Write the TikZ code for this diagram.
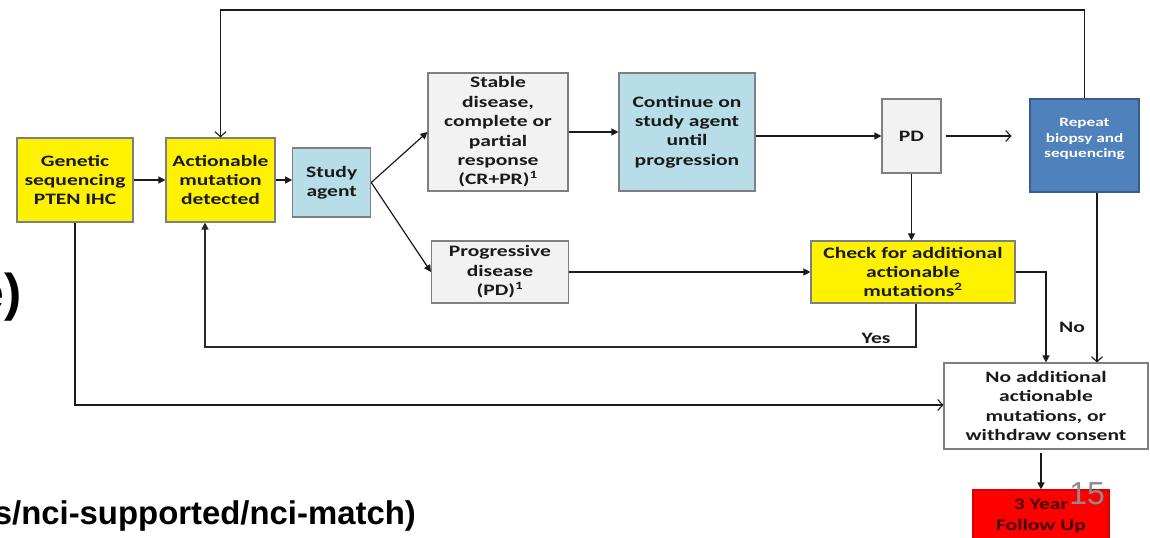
\documentclass[tikz,border=0pt]{standalone}
\usepackage{fontspec}
\setmainfont{Carlito}[FakeStretch=1.35]
\newfontfamily\arialfont{Liberation Sans}
\usetikzlibrary{arrows.meta,calc}
\definecolor{boxgray}{HTML}{7F7F7F}
\definecolor{lgray}{HTML}{F2F2F2}
\definecolor{lblue}{HTML}{B7DEE8}
\definecolor{rblue}{HTML}{4F81BD}
\definecolor{rblueb}{HTML}{385D8A}
\definecolor{txt}{HTML}{1A1A1A}
\definecolor{lin}{HTML}{1A1A1A}
\definecolor{pgnum}{HTML}{8C8C8C}
\definecolor{fuText}{HTML}{400000}
\tikzset{
  box/.style={draw=boxgray, line width=1.1bp, inner sep=0pt, align=center,
    font=\bfseries\fontsize{16}{19.5}\selectfont, text=txt},
  ybox/.style={box, fill=yellow},
  gbox/.style={box, fill=lgray},
  bbox/.style={box, fill=lblue},
  conn/.style={draw=lin, line width=1.2bp},
  farrow/.style={conn, -{Triangle[length=7bp,width=7bp]}},
  oarrow/.style={conn, -{Straight Barb[length=5bp,width=11bp,line width=1.1bp]}},
  lbl/.style={font=\bfseries\fontsize{16}{19.5}\selectfont, text=txt, inner sep=0pt}
}
\begin{document}
\begin{tikzpicture}[x=1bp,y=-1bp]
\useasboundingbox (0,0) rectangle (1150,538);
\clip (0,0) rectangle (1150,538);
\fill[white] (0,0) rectangle (1150,538);

% boxes
\node[ybox, minimum width=116bp, minimum height=84bp] (gen) at (75,180) {Genetic\\sequencing\\PTEN IHC};
\node[ybox, minimum width=109bp, minimum height=84bp] (act) at (220.5,180) {Actionable\\mutation\\detected};
\node[bbox, minimum width=78bp, minimum height=69bp] (study) at (331.7,182.5) {Study\\agent};
\node[gbox, minimum width=140bp, minimum height=118bp] (stable) at (498,132) {Stable\\disease,\\complete or\\partial\\response\\(CR+PR)\textsuperscript{1}};
\node[bbox, minimum width=136bp, minimum height=118bp] (cont) at (687,132) {Continue on\\study agent\\until\\progression};
\node[gbox, minimum width=59bp, minimum height=74bp] (pd) at (911.5,136) {PD};
\node[box, fill=rblue, draw=rblueb, minimum width=109bp, minimum height=93bp] (rep) at (1084.5,145.5) {};
\node[inner sep=0pt, align=center, text=white, font=\bfseries\fontsize{12.8}{15.5}\selectfont] (reptext) at (1084.5,139) {Repeat\\biopsy and\\sequencing};
\node[gbox, minimum width=137bp, minimum height=62bp] (prog) at (500,272) {Progressive\\disease\\(PD)\textsuperscript{1}};
\node[ybox, minimum width=204bp, minimum height=62bp] (check) at (913,272) {Check for additional\\actionable\\mutations\textsuperscript{2}};
\node[box, fill=white, minimum width=204bp, minimum height=86bp] (noadd) at (1046,406) {No additional\\actionable\\mutations, or\\withdraw consent};
\node[box, fill=red, draw=red!85!black, text=fuText, font=\bfseries\fontsize{16}{20.5}\selectfont, minimum width=136bp, minimum height=52bp] (fu) at (1041,516) {3 Year\\Follow Up};

% connectors
\draw[farrow] (gen.east) -- (act.west);
\draw[farrow] (act.east) -- (act.east -| study.west);
\draw[farrow] (study.east) -- (stable.west);
\draw[farrow] (study.east) -- (prog.west);
\draw[farrow] (stable.east) -- (cont.west);
\draw[farrow] (pd.west -| cont.east) -- (pd.west);
\draw[oarrow, shorten <=4bp, shorten >=18bp] (pd.east) -- (pd.east -| rep.west);
\coordinate (topc) at (1084.5,10);
\draw[oarrow] (rep.north) -- (topc) -| (act.north);
\draw[farrow] (pd.south) -- (check.north -| pd.south);
\draw[farrow] (prog.east) -- (check.west);
\coordinate (yesc) at (916,347);
\draw[farrow, line width=1.6bp, draw=black!85] (check.south -| yesc) -- (yesc) -| ([xshift=-15.5bp]act.south);
\coordinate (genc) at (75,405);
\draw[oarrow] (gen.south) -- (genc) -- (genc -| noadd.west);
\draw[farrow] (check.east) -| (noadd.north);
\draw[oarrow] ([xshift=12.5bp]rep.south) -- ([xshift=12.5bp]rep.south |- noadd.north);
\draw[farrow, shorten <=3bp] (fu.north |- noadd.south) -- (fu.north);

% labels
\node[lbl] (yes) at (876,338) {Yes};
\node[lbl] (no) at (1072,327) {No};
\node[inner sep=0pt, text=pgnum, font=\arialfont\fontsize{32}{32}\selectfont] (pg) at (1087,493.5) {15};
\node[inner sep=0pt, anchor=east, font=\arialfont\bfseries\fontsize{52}{52}\selectfont] (frag1) at (22,297.4) {e)};
\node[inner sep=0pt, anchor=base east, font=\arialfont\bfseries\fontsize{33}{33}\selectfont] (frag2) at (416,524) {s/nci-supported/nci-match)};
\end{tikzpicture}
\end{document}
